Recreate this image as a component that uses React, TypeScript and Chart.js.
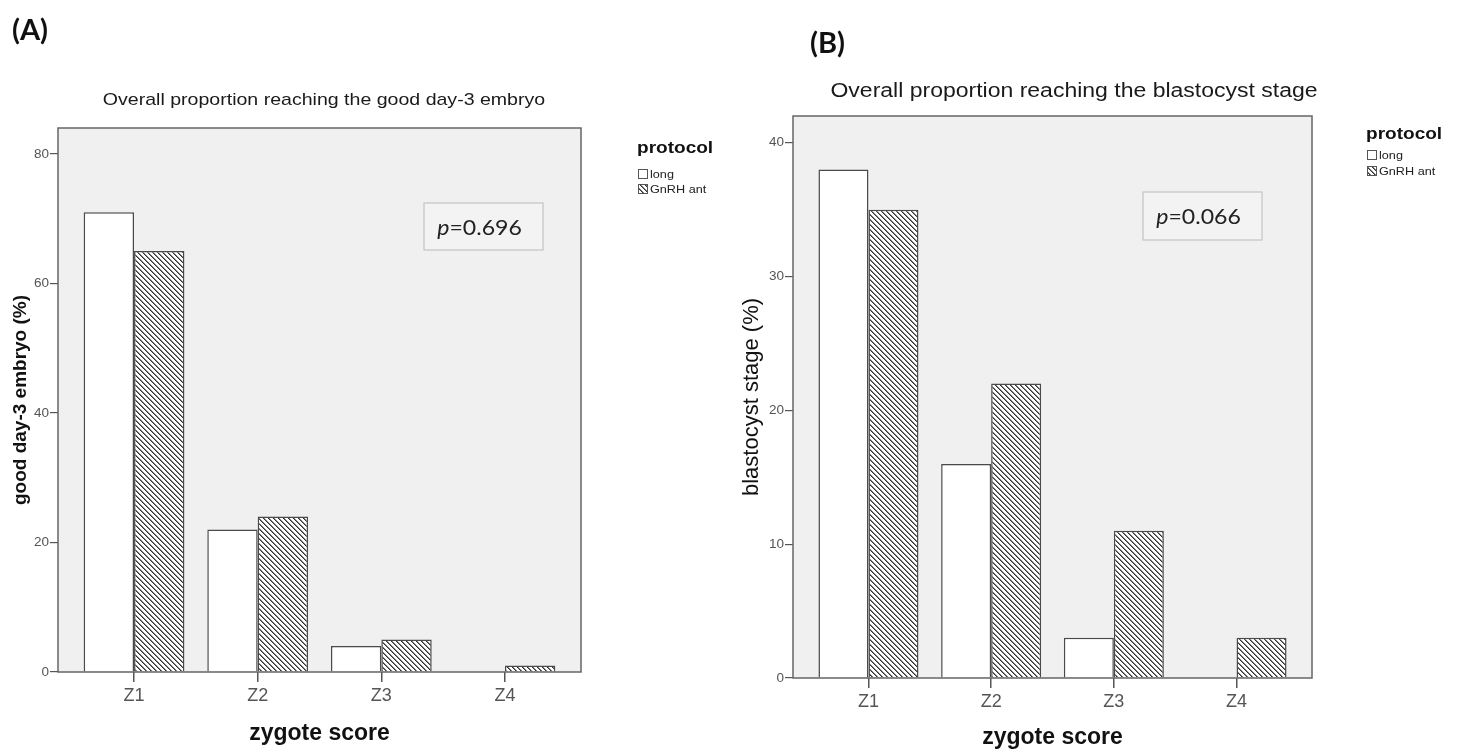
import React, { useEffect, useRef } from "react";
import { Chart, registerables } from "chart.js";

Chart.register(...registerables);

// ---------- data ----------
const categories = ["Z1", "Z2", "Z3", "Z4"];
const seriesNames = ["long", "GnRH ant"];
const legendTitle = "protocol";
const xAxisTitle = "zygote score";

const day3Long = [71, 22, 4, 0];
const day3Ant = [65, 24, 5, 1];
const day3Ticks = [0, 20, 40, 60, 80];
const day3Max = 84;
const day3P = "0.696";

const blastLong = [38, 16, 3, 0];
const blastAnt = [35, 22, 11, 3];
const blastTicks = [0, 10, 20, 30, 40];
const blastMax = 42;
const blastP = "0.066";

// ---------- styling / layout ----------
const SANS = "'Liberation Sans', Arial, sans-serif";
const CAL = "Lato, 'Liberation Sans', sans-serif";
const CW = 730;
const CH = 754;

type Cfg = {
  panel: string;
  title: string;
  yTitle: string;
  yTitleFont: { size: number; weight: string };
  long: number[];
  ant: number[];
  ticks: number[];
  yMax: number;
  p: string;
  area: { left: number; top: number; right: number; bottom: number };
  titlePos: { x: number; y: number; size: number };
  panelPos: { x: number; y: number };
  legendPos: { x: number; y: number; box1: number; box2: number };
  pBox: { x1: number; y1: number; x2: number; y2: number; base: number };
  yTitlePad: number;
  xTitlePad: number;
};

const cfgA: Cfg = {
  panel: "(A)",
  title: "Overall proportion reaching the good day-3 embryo",
  yTitle: "good day-3 embryo (%)",
  yTitleFont: { size: 19, weight: "bold" },
  long: day3Long,
  ant: day3Ant,
  ticks: day3Ticks,
  yMax: day3Max,
  p: day3P,
  area: { left: 58, top: 128, right: 581, bottom: 672 },
  titlePos: { x: 324, y: 105, size: 17 },
  panelPos: { x: 12, y: 40 },
  legendPos: { x: 637, y: 153, box1: 169, box2: 184 },
  pBox: { x1: 424, y1: 203, x2: 543, y2: 250, base: 235 },
  yTitlePad: 9,
  xTitlePad: 7,
};

const cfgB: Cfg = {
  panel: "(B)",
  title: "Overall proportion reaching the blastocyst stage",
  yTitle: "blastocyst stage (%)",
  yTitleFont: { size: 22, weight: "normal" },
  long: blastLong,
  ant: blastAnt,
  ticks: blastTicks,
  yMax: blastMax,
  p: blastP,
  area: { left: 63, top: 116, right: 582, bottom: 678 },
  titlePos: { x: 344, y: 97, size: 20 },
  panelPos: { x: 80, y: 53 },
  legendPos: { x: 636, y: 139, box1: 150, box2: 166 },
  pBox: { x1: 413, y1: 192, x2: 532, y2: 240, base: 224 },
  yTitlePad: 9,
  xTitlePad: 3,
};

function makeHatch(): CanvasPattern | string {
  const n = 5;
  const c = document.createElement("canvas");
  c.width = n;
  c.height = n;
  const g = c.getContext("2d");
  if (!g) return "#999";
  const img = g.createImageData(n, n);
  for (let y = 0; y < n; y++) {
    for (let x = 0; x < n; x++) {
      const d = (((x - y) % n) + n) % n;
      const v = d === 0 ? 50 : d === 1 ? 130 : 255;
      const k = (y * n + x) * 4;
      img.data[k] = v;
      img.data[k + 1] = v;
      img.data[k + 2] = v;
      img.data[k + 3] = 255;
    }
  }
  g.putImageData(img, 0, 0);
  return g.createPattern(c, "repeat") || "#999";
}

function stretchText(
  ctx: CanvasRenderingContext2D,
  s: string,
  x: number,
  y: number,
  font: string,
  align: CanvasTextAlign,
  sx: number,
  color: string
) {
  ctx.save();
  ctx.translate(x, y);
  ctx.scale(sx, 1);
  ctx.font = font;
  ctx.textAlign = align;
  ctx.textBaseline = "alphabetic";
  ctx.fillStyle = color;
  ctx.fillText(s, 0, 0);
  ctx.restore();
}

function decor(cfg: Cfg, hatch: CanvasPattern | string) {
  return {
    id: "decor",
    beforeDraw(chart: any) {
      const { ctx, chartArea: a } = chart;
      ctx.save();
      ctx.fillStyle = "#f0f0f0";
      ctx.fillRect(a.left, a.top, a.right - a.left, a.bottom - a.top);
      ctx.restore();
    },
    afterDatasetsDraw(chart: any) {
      const { ctx, chartArea: a } = chart;
      ctx.save();
      ctx.strokeStyle = "#666666";
      ctx.lineWidth = 1.5;
      ctx.strokeRect(a.left, a.top, a.right - a.left, a.bottom - a.top);
      // p-value box
      const b = cfg.pBox;
      ctx.fillStyle = "#f3f3f3";
      ctx.fillRect(b.x1, b.y1, b.x2 - b.x1, b.y2 - b.y1);
      ctx.strokeStyle = "#c4c4c4";
      ctx.lineWidth = 1.2;
      ctx.strokeRect(b.x1, b.y1, b.x2 - b.x1, b.y2 - b.y1);
      const fItal = `italic 22px ${CAL}`;
      const fReg = `22px ${CAL}`;
      const rest = "=" + cfg.p;
      ctx.font = fItal;
      const w1 = ctx.measureText("p").width;
      ctx.font = fReg;
      const w2 = ctx.measureText(rest).width;
      const sx = 1.05;
      const total = (w1 + w2) * sx;
      const x0 = (b.x1 + b.x2) / 2 - total / 2 - 4;
      stretchText(ctx, "p", x0, b.base, fItal, "left", sx, "#222");
      stretchText(ctx, rest, x0 + w1 * sx, b.base, fReg, "left", sx, "#222");
      ctx.restore();
    },
    afterDraw(chart: any) {
      const { ctx } = chart;
      ctx.save();
      // title
      const t = cfg.titlePos;
      stretchText(ctx, cfg.title, t.x, t.y, `${t.size}px ${SANS}`, "center", 1.15, "#1a1a1a");
      // panel label
      stretchText(ctx, cfg.panel, cfg.panelPos.x, cfg.panelPos.y, `bold 29px ${CAL}`, "left", 1.0, "#111");
      // legend
      const L = cfg.legendPos;
      stretchText(ctx, legendTitle, L.x, L.y, `bold 17px ${SANS}`, "left", 1.12, "#111");
      const boxes = [L.box1, L.box2];
      const fills: (string | CanvasPattern)[] = ["#ffffff", hatch];
      seriesNames.forEach((name, i) => {
        const by = boxes[i];
        ctx.fillStyle = fills[i];
        ctx.fillRect(L.x + 1, by, 9, 9);
        ctx.strokeStyle = "#555";
        ctx.lineWidth = 1;
        ctx.strokeRect(L.x + 1.5, by + 0.5, 9, 9);
        stretchText(ctx, name, L.x + 13, by + 9, `11.5px ${SANS}`, "left", 1.1, "#222");
      });
      ctx.restore();
    },
  };
}

function Panel({ cfg, left }: { cfg: Cfg; left: number }) {
  const ref = useRef<HTMLCanvasElement>(null);
  useEffect(() => {
    const canvas = ref.current;
    if (!canvas) return;
    const hatch = makeHatch();
    const border = "#4a4a4a";
    const chart = new Chart(canvas, {
      type: "bar",
      data: {
        datasets: [
          {
            label: seriesNames[0],
            data: cfg.long.map((v, i) => ({ x: i + 1, y: v })),
            backgroundColor: "#ffffff",
            borderColor: border,
            borderWidth: 1.5,
          },
          {
            label: seriesNames[1],
            data: cfg.ant.map((v, i) => ({ x: i + 1, y: v })),
            backgroundColor: hatch as any,
            borderColor: border,
            borderWidth: 1.5,
          },
        ],
      },
      options: {
        responsive: false,
        animation: false,
        devicePixelRatio: 1,
        layout: {
          padding: { top: cfg.area.top, right: CW - cfg.area.right, left: 0, bottom: 0 },
        },
        datasets: { bar: { categoryPercentage: 0.815, barPercentage: 1 } },
        plugins: { legend: { display: false }, tooltip: { enabled: false } },
        scales: {
          x: {
            type: "linear",
            offset: false,
            min: 1 - 0.615,
            max: categories.length + 0.615,
            afterBuildTicks: (s: any) => {
              s.ticks = categories.map((_, i) => ({ value: i + 1 }));
            },
            afterFit: (s: any) => {
              s.height = CH - cfg.area.bottom;
            },
            ticks: {
              callback: (v: any) => categories[Number(v) - 1] ?? "",
              font: { family: SANS, size: 18 },
              color: "#555",
              padding: 3,
              autoSkip: false,
              maxRotation: 0,
            },
            grid: { offset: false, drawOnChartArea: false, tickLength: 10, color: "#555", lineWidth: 1.5 },
            border: { display: false },
            title: {
              display: true,
              text: xAxisTitle,
              font: { family: SANS, size: 23, weight: "bold" },
              color: "#111",
              padding: { top: 0, bottom: cfg.xTitlePad },
            },
          },
          y: {
            min: 0,
            max: cfg.yMax,
            afterBuildTicks: (s: any) => {
              s.ticks = cfg.ticks.map((v) => ({ value: v }));
            },
            afterFit: (s: any) => {
              s.width = cfg.area.left;
            },
            ticks: { font: { family: SANS, size: 13.5 }, color: "#555", padding: 1 },
            grid: { drawOnChartArea: false, tickLength: 8, color: "#555", lineWidth: 1.2 },
            border: { display: false },
            title: {
              display: true,
              text: cfg.yTitle,
              font: { family: SANS, size: cfg.yTitleFont.size, weight: cfg.yTitleFont.weight as any },
              color: "#111",
              padding: { top: cfg.yTitlePad, bottom: 0 },
            },
          },
        },
      } as any,
      plugins: [decor(cfg, hatch) as any],
    });
    return () => chart.destroy();
  }, [cfg]);
  return (
    <canvas
      ref={ref}
      width={CW}
      height={CH}
      style={{ position: "absolute", left, top: 0, width: CW, height: CH }}
    />
  );
}

export default function App() {
  return (
    <div style={{ position: "absolute", left: 0, top: 0, width: 1460, height: 754, background: "#fff", overflow: "hidden" }}>
      <Panel cfg={cfgA} left={0} />
      <Panel cfg={cfgB} left={730} />
    </div>
  );
}
